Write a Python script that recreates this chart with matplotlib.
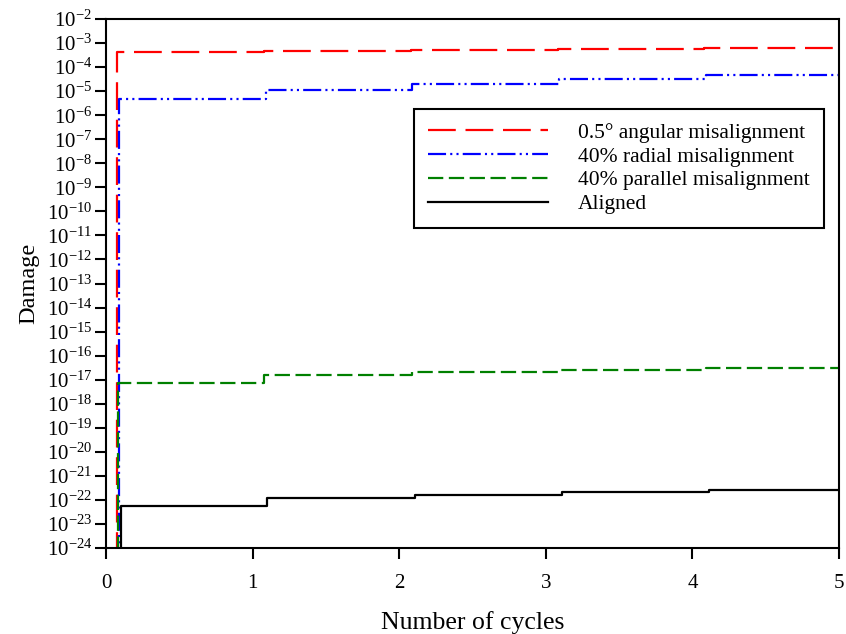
import numpy as np
import matplotlib.pyplot as plt
from matplotlib.ticker import FixedLocator, FuncFormatter

plt.rcParams['font.family'] = ['Liberation Serif', 'DejaVu Serif']
plt.rcParams['mathtext.fontset'] = 'custom'
plt.rcParams['mathtext.rm'] = 'Liberation Serif'
plt.rcParams['axes.unicode_minus'] = False
plt.rcParams['lines.scale_dashes'] = False

# cycle times at which damage jumps, and damage reached after each jump
t_angular = [0.075, 1.08, 2.08, 3.08, 4.08]
d_angular = [4.1e-4, 4.9e-4, 5.3e-4, 5.8e-4, 6.2e-4]
t_radial = [0.09, 1.09, 2.09, 3.09, 4.09]
d_radial = [4.6e-6, 1.17e-5, 1.95e-5, 3.3e-5, 4.6e-5]
t_parallel = [0.08, 1.08, 2.09, 3.09, 4.09]
d_parallel = [7.4e-18, 1.5e-17, 2.1e-17, 2.6e-17, 3.0e-17]
t_aligned = [0.10, 1.10, 2.11, 3.11, 4.11]
d_aligned = [5.8e-23, 1.17e-22, 1.67e-22, 2.07e-22, 2.6e-22]

labels = ['0.5\u00b0 angular misalignment', '40% radial misalignment',
          '40% parallel misalignment', 'Aligned']
x_end = 5.0
d_zero = 1e-30  # below the axis floor, so each curve rises from the bottom


def history(t, d):
    x = np.concatenate([[0.0], t, [x_end]])
    y = np.concatenate([[d_zero], d, [d[-1]]])
    return x, y


fig = plt.figure(figsize=(8.46, 6.34), dpi=100)
ax = fig.add_axes([0.1253, 0.1356, 0.8664, 0.8344])

series = [
    (t_angular, d_angular, 'red', (0, (20, 7))),
    (t_radial, d_radial, 'blue', (0, (13, 3, 1.5, 3, 1.5, 3))),
    (t_parallel, d_parallel, 'green', (0, (11, 4))),
    (t_aligned, d_aligned, 'black', '-'),
]
for (t, d, c, ls), lab in zip(series, labels):
    x, y = history(t, d)
    ax.plot(x, y, drawstyle='steps-post', color=c, ls=ls, lw=1.6, label=lab)

ax.set_yscale('log')
ax.set_xlim(0, 5)
ax.set_ylim(1e-24, 1e-2)
ax.set_xticks([0, 1, 2, 3, 4, 5])
ax.yaxis.set_major_locator(FixedLocator([10.0 ** k for k in range(-24, -1)]))
ax.yaxis.set_minor_locator(FixedLocator([]))
ax.yaxis.set_major_formatter(
    FuncFormatter(lambda v, p: r'$\mathregular{10^{%d}}$' % round(np.log10(v))))
ax.tick_params(axis='both', direction='out', length=8, width=1.5,
               labelsize=15, top=False, right=False)
ax.tick_params(axis='x', pad=11)
ax.tick_params(axis='y', pad=2)
for s in ax.spines.values():
    s.set_linewidth(1.5)

ax.set_xlabel('Number of cycles', fontsize=18.5, labelpad=13)
ax.set_ylabel('Damage', fontsize=17.5, labelpad=5)

leg = ax.legend(loc='upper right', bbox_to_anchor=(0.9795, 0.830),
                fontsize=15.5, handlelength=5.6, handletextpad=1.4,
                labelspacing=0.17, borderpad=0.65, borderaxespad=0,
                fancybox=False, framealpha=1, edgecolor='black')
leg.get_frame().set_linewidth(1.5)

fig.savefig('out.png', dpi=100)
